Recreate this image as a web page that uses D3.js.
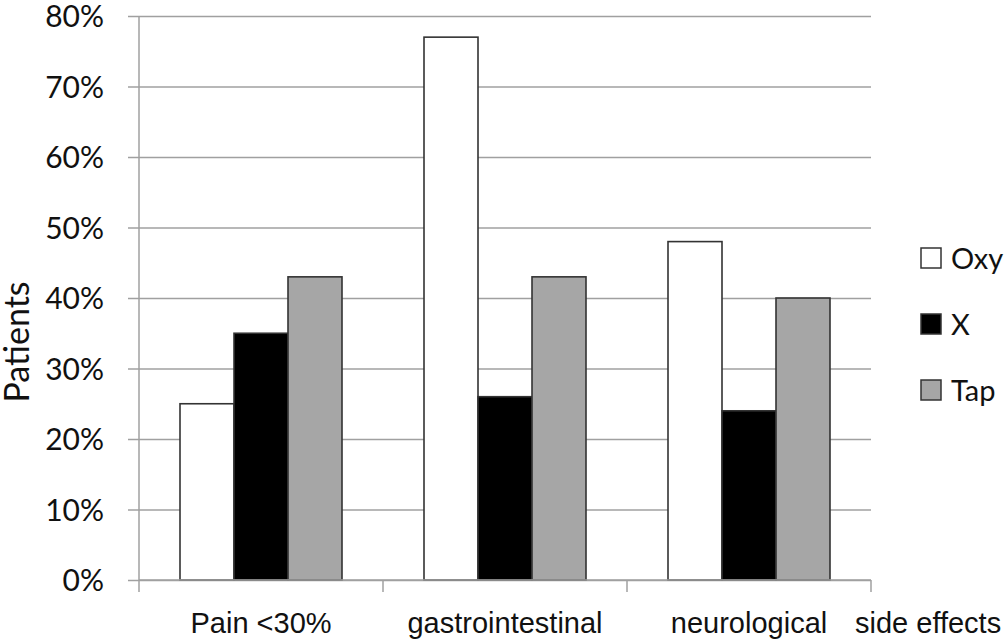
<!DOCTYPE html>
<html>
<head>
<meta charset="utf-8">
<script src="https://cdn.jsdelivr.net/npm/d3@7"></script>
<style>
  html, body { margin: 0; padding: 0; background: #fff; }
  svg { display: block; }
</style>
</head>
<body>
<svg id="chart" width="1007" height="642"></svg>
<script>
const categories = ["Pain <30%", "gastrointestinal", "neurological"];
const series = ["Oxy", "X", "Tap"];
const oxyValues = [0.25, 0.77, 0.48];
const xValues = [0.35, 0.26, 0.24];
const tapValues = [0.43, 0.43, 0.40];
const yTicks = [0, 0.1, 0.2, 0.3, 0.4, 0.5, 0.6, 0.7, 0.8];
const axisNote = "side effects";
const yTitle = "Patients";

(function () {
const valuesBySeries = { "Oxy": oxyValues, "X": xValues, "Tap": tapValues };
const colors = { "Oxy": "#ffffff", "X": "#000000", "Tap": "#a6a6a6" };

const svg = d3.select("#chart");
const mLeft = 139, mRight = 871, mTop = 16, mBottom = 580;

const y = d3.scaleLinear().domain([0, 0.8]).range([mBottom, mTop]);
const x0 = d3.scaleBand().domain(categories).range([mLeft, mRight]).padding(0);
const x1 = d3.scaleBand().domain(series).range([41, 203]).padding(0);

const gridColor = "#a0a0a0";

// gridlines + y labels
const yAxis = d3.axisLeft(y).tickValues(yTicks).tickFormat(d3.format(".0%"))
  .tickSize(0).tickPadding(24);
const gy = svg.append("g").attr("transform", `translate(${mLeft - 11},0)`).call(yAxis);
gy.select(".domain").remove();
gy.selectAll(".tick line").attr("stroke", gridColor).attr("stroke-width", 1.5)
  .attr("x1", 0).attr("x2", mRight - mLeft + 11);
gy.selectAll(".tick text").attr("font-family", "Lato, 'Open Sans', sans-serif")
  .attr("font-size", 30).attr("fill", "#111").attr("dy", "0.36em");

// y axis line
svg.append("line").attr("x1", mLeft).attr("x2", mLeft).attr("y1", y(0.8)).attr("y2", y(0))
  .attr("stroke", gridColor).attr("stroke-width", 1.5);

// bars
const groups = svg.append("g").selectAll("g").data(categories).join("g")
  .attr("transform", d => `translate(${x0(d)},0)`);
groups.selectAll("rect")
  .data((c, i) => series.map(s => ({ s, v: valuesBySeries[s][i] })))
  .join("rect")
  .attr("x", d => x1(d.s))
  .attr("width", x1.bandwidth())
  .attr("y", d => y(d.v))
  .attr("height", d => y(0) - y(d.v))
  .attr("fill", d => colors[d.s])
  .attr("stroke", "#333")
  .attr("stroke-width", 1.6);

// x axis
const xAxis = d3.axisBottom(x0).tickSize(0).tickPadding(0);
const gx = svg.append("g").attr("transform", `translate(0,${mBottom})`).call(xAxis);
gx.select(".domain").attr("stroke", gridColor).attr("stroke-width", 1.5)
  .attr("d", `M${mLeft},0H${mRight}`);
gx.selectAll(".tick text").attr("font-family", "'Liberation Sans', Arial, sans-serif")
  .attr("font-size", 29).attr("fill", "#111").attr("y", 53).attr("dy", 0);
// category boundary ticks
const bounds = categories.map(c => x0(c)).concat([mRight]);
svg.append("g").selectAll("line").data(bounds).join("line")
  .attr("x1", d => d).attr("x2", d => d).attr("y1", mBottom).attr("y2", mBottom + 12)
  .attr("stroke", gridColor).attr("stroke-width", 1.5);

svg.append("text").text(axisNote)
  .attr("x", mRight - 16).attr("y", mBottom + 53)
  .attr("font-family", "'Liberation Sans', Arial, sans-serif")
  .attr("font-size", 29).attr("fill", "#111");

// y title
svg.append("text").text(yTitle)
  .attr("transform", `translate(29,${(y(0.8) + y(0)) / 2 + 44}) rotate(-90)`)
  .attr("text-anchor", "middle")
  .attr("font-family", "Lato, 'Open Sans', sans-serif")
  .attr("font-size", 34).attr("fill", "#111");

// legend
const legend = svg.append("g").selectAll("g").data(series).join("g")
  .attr("transform", (d, i) => `translate(921,${248 + i * 66})`);
legend.append("rect").attr("width", 20).attr("height", 20)
  .attr("fill", d => colors[d]).attr("stroke", "#333").attr("stroke-width", 1.5);
legend.append("text").text(d => d).attr("x", 30).attr("y", 21)
  .attr("font-family", "Lato, 'Open Sans', sans-serif")
  .attr("font-size", 29).attr("fill", "#111");
})();
</script>
</body>
</html>
